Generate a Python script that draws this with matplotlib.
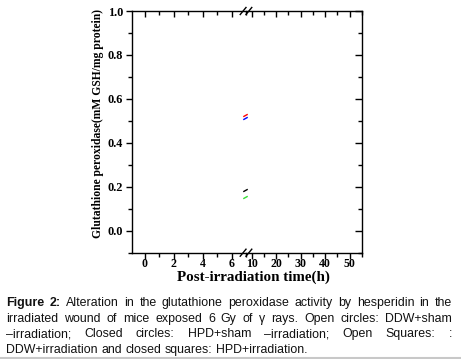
import numpy as np
import matplotlib
matplotlib.use("Agg")
import matplotlib.pyplot as plt
from matplotlib.ticker import MultipleLocator, FixedLocator

# ---- data ----
series_labels = ["DDW+sham -irradiation", "HPD+sham -irradiation",
                 "DDW+irradiation", "HPD+irradiation"]
series_colors = ["red", "blue", "black", "#33dd33"]
series_break_values = [0.527, 0.513, 0.184, 0.152]
left_xticks = [0, 2, 4, 6]
right_xticks = [10, 20, 30, 40, 50]
yticks = [0.0, 0.2, 0.4, 0.6, 0.8, 1.0]
x_label = "Post-irradiation time(h)"
y_label = "Glutathione peroxidase(mM GSH/mg protein)"
caption_lines = [
    "Alteration in the glutathione peroxidase activity by hesperidin in the",
    "irradiated wound of mice exposed 6 Gy of γ rays. Open circles: DDW+sham",
    "–irradiation; Closed circles: HPD+sham –irradiation; Open Squares: :",
    "DDW+irradiation and closed squares: HPD+irradiation.",
]
caption_head = "Figure 2:"

serif = ["Liberation Serif", "DejaVu Serif"]
sans = ["Liberation Sans", "DejaVu Sans"]
plt.rcParams["font.family"] = serif
plt.rcParams["font.weight"] = "bold"
plt.rcParams["xtick.labelsize"] = 8.6
plt.rcParams["ytick.labelsize"] = 8.8

W, H = 461, 359
fig = plt.figure(figsize=(W / 100, H / 100), dpi=100)

xl, xb, xr = 131.7, 246.0, 362.0
yt, yb = 11.0, 252.7
axL = fig.add_axes([xl / W, 1 - yb / H, (xb - xl) / W, (yb - yt) / H])
axR = fig.add_axes([xb / W, 1 - yb / H, (xr - xb) / W, (yb - yt) / H])

axL.set_xlim(-0.92, 7.0)
axR.set_xlim(7.7, 55)
for ax in (axL, axR):
    ax.set_ylim(-0.1, 1.0)
    ax.patch.set_alpha(0)
    for s in ax.spines.values():
        s.set_linewidth(1.0)

axL.spines["right"].set_visible(False)
axR.spines["left"].set_visible(False)

axL.xaxis.set_major_locator(FixedLocator(left_xticks))
axL.xaxis.set_minor_locator(MultipleLocator(1))
axR.xaxis.set_major_locator(FixedLocator(right_xticks))
axR.xaxis.set_minor_locator(MultipleLocator(5))
axL.yaxis.set_major_locator(FixedLocator(yticks))
axL.yaxis.set_minor_locator(MultipleLocator(0.1))
axR.yaxis.set_major_locator(FixedLocator(yticks))
axR.yaxis.set_minor_locator(MultipleLocator(0.1))
axL.set_yticklabels([f"{v:.1f}" for v in yticks])

for ax in (axL, axR):
    ax.tick_params(axis="x", which="both", direction="out", bottom=True, top=True,
                   labeltop=False, width=1, pad=0.0)
    ax.tick_params(axis="x", which="major", length=4)
    ax.tick_params(axis="x", which="minor", length=3)

axL.tick_params(axis="y", which="both", direction="out", left=True, right=False,
                width=1, pad=2)
axL.tick_params(axis="y", which="major", length=4)
axL.tick_params(axis="y", which="minor", length=3)
axR.tick_params(axis="y", which="both", direction="in", left=False, right=True,
                labelleft=False, labelright=False, width=1)
axR.tick_params(axis="y", which="major", length=5)
axR.tick_params(axis="y", which="minor", length=3)

# top ticks point inward
for ax in (axL, axR):
    for t in ax.xaxis.get_major_ticks() + ax.xaxis.get_minor_ticks():
        t.tick2line.set_marker(3)

# series marks at the axis break (short slanted segments)
slash = [(-1, -0.55), (1, 0.55)]
for val, col in zip(series_break_values, series_colors):
    axL.plot([6.93], [val], linestyle="none", marker=slash, markersize=3.2,
             markeredgecolor=col, markeredgewidth=1.0, clip_on=False)

# axis break marks
for yy in (-0.1, 1.0):
    for dx in (-0.15, 0.25):
        axL.plot([6.75 + dx, 7.15 + dx], [yy - 0.016, yy + 0.016], color="black",
                 lw=1.0, clip_on=False)

fig.text(253 / W, 1 - 280.5 / H, x_label, ha="center", va="baseline",
         family=serif, fontweight="bold", fontsize=10.8)
fig.text(98 / W, 1 - 124 / H, y_label, ha="center", va="center", rotation=90,
         family=serif, fontweight="bold", fontsize=8.4)

# caption (justified)
renderer = fig.canvas.get_renderer()
cap_size = 8.9
x0, x1 = 6.0, 452.0
baselines = [306.0, 321.7, 337.2, 352.7]


def word_width(word, weight):
    t = fig.text(0, 0, word, family=sans, fontsize=cap_size, fontweight=weight)
    w = t.get_window_extent(renderer=renderer).width
    t.remove()
    return w


for i, (line, base) in enumerate(zip(caption_lines, baselines)):
    words = [(w, "normal") for w in line.split(" ")]
    if i == 0:
        words = [(w, "bold") for w in caption_head.split(" ")] + words
    widths = [word_width(w, wt) for w, wt in words]
    if i < len(caption_lines) - 1:
        gap = (x1 - x0 - sum(widths)) / (len(words) - 1)
    else:
        gap = word_width("a b", "normal") - word_width("ab", "normal")
    x = x0
    for (w, wt), ww in zip(words, widths):
        fig.text(x / W, 1 - base / H, w, family=sans, fontsize=cap_size,
                 fontweight=wt, va="baseline", ha="left", color="#111111")
        x += ww + gap

fig.add_artist(plt.Line2D([0, 1], [1 - 357.5 / H] * 2, color="#c8c8c8", lw=1.5))

fig.savefig("out.png", dpi=100)
